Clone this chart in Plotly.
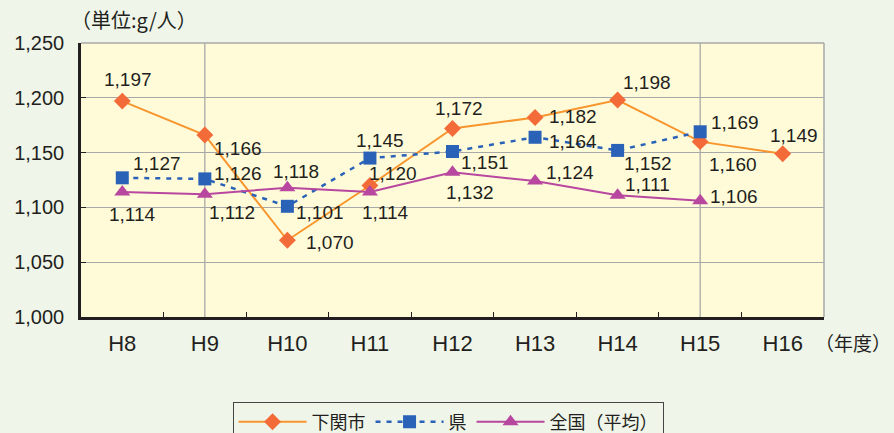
import plotly.graph_objects as go

years = ["H8", "H9", "H10", "H11", "H12", "H13", "H14", "H15", "H16"]
shimonoseki = [1197, 1166, 1070, 1120, 1172, 1182, 1198, 1160, 1149]
ken = [1127, 1126, 1101, 1145, 1151, 1164, 1152, 1169]
zenkoku = [1114, 1112, 1118, 1114, 1132, 1124, 1111, 1106]
y_ticks = [1000, 1050, 1100, 1150, 1200, 1250]

# label offsets in px (style only)
off_s = [(6, 22), (33, -13), (43, -2), (23, 12), (6, 20), (38, 1), (29, 17), (33, -23), (11, 18)]
off_k = [(35, 14), (33, 5), (33, -6), (10, 18), (32, -11), (38, -4), (30, -13), (35, 9)]
off_z = [(10, -22), (27, -18), (9, 16), (16, -20), (17, -20), (35, 9), (30, 11), (34, 4)]

FONT = "Liberation Sans, Noto Sans CJK JP, sans-serif"
CJK = "Noto Sans CJK JP, sans-serif"
TXT = "#231F20"
C_OR_LINE = "#F7962E"
C_OR_MK = "#F26B38"
C_BLUE = "#2A62B8"
C_MAG = "#B8479F"

fig = go.Figure()
fig.add_trace(go.Scatter(x=years, y=shimonoseki, name="下関市", mode="lines+markers",
                         line=dict(color=C_OR_LINE, width=2),
                         marker=dict(symbol="diamond", size=13, color=C_OR_MK)))
fig.add_trace(go.Scatter(x=years[:len(ken)], y=ken, name="県", mode="lines+markers",
                         line=dict(color=C_BLUE, width=2.5, dash="5px,6px"),
                         marker=dict(symbol="square", size=13, color=C_BLUE)))
fig.add_trace(go.Scatter(x=years[:len(zenkoku)], y=zenkoku, name="全国（平均）", mode="lines+markers",
                         line=dict(color=C_MAG, width=2),
                         marker=dict(symbol="triangle-up", size=14, color=C_MAG)))

annots = []
for vals, offs in ((shimonoseki, off_s), (ken, off_k), (zenkoku, off_z)):
    for x, v, (dx, dy) in zip(years, vals, offs):
        annots.append(dict(x=x, y=v, text=f"{v:,}", showarrow=False, xshift=dx, yshift=dy,
                           font=dict(family=FONT, size=19, color=TXT)))
annots.append(dict(xref="paper", yref="paper", x=0, y=1.0, xshift=-12, yshift=24, xanchor="left", yanchor="middle",
                   text="（単位:g/人）", showarrow=False, font=dict(family=CJK, size=20, color=TXT)))
annots.append(dict(xref="paper", yref="paper", x=1.0, y=0, xshift=69, yshift=-25, xanchor="right", yanchor="middle",
                   text="（年度）", showarrow=False, font=dict(family=CJK, size=19, color=TXT)))

shapes = []
for xv in ["H9", "H15"]:
    shapes.append(dict(type="line", xref="x", yref="paper", x0=xv, x1=xv, y0=0, y1=1,
                       line=dict(color="#A8A8A8", width=1.3), layer="below"))
shapes.append(dict(type="line", xref="paper", yref="paper", x0=0, x1=1, y0=1, y1=1,
                   line=dict(color="#A8A8A8", width=1.5)))
shapes.append(dict(type="line", xref="paper", yref="paper", x0=1, x1=1, y0=0, y1=1,
                   line=dict(color="#A8A8A8", width=1.5)))

fig.update_layout(
    width=894, height=433,
    margin=dict(l=81, r=70, t=43, b=116, autoexpand=False),
    paper_bgcolor="#EFF5E9",
    plot_bgcolor="#FFFBD9",
    font=dict(family=FONT, color=TXT),
    showlegend=True,
    legend=dict(orientation="h", x=0.494, xanchor="center", y=-0.312, yanchor="top",
                bgcolor="#EFF5E9", bordercolor="#444444", borderwidth=1,
                font=dict(family=CJK, size=18, color=TXT), itemwidth=68,
                tracegroupgap=0),
    annotations=annots,
    shapes=shapes,
)
fig.update_xaxes(type="category", showgrid=False, showline=True, linecolor="#231F20", linewidth=2.5,
                 ticks="inside", tickson="boundaries", ticklen=5, tickcolor="#231F20", automargin=False,
                 ticklabelstandoff=5,
                 tickfont=dict(family=FONT, size=22, color=TXT), range=[-0.5, 8.5])
fig.update_yaxes(range=[1000, 1250], tickvals=y_ticks, tickformat=",d", showgrid=True,
                 gridcolor="#A8A8A8", gridwidth=1.3, showline=True, linecolor="#231F20", linewidth=2.5,
                 ticks="inside", ticklen=5, tickcolor="#231F20", zeroline=False, automargin=False,
                 ticklabelstandoff=10,
                 tickfont=dict(family=FONT, size=20, color=TXT))
fig.write_html("out.html", config={"displayModeBar": False},
               post_script="document.body.style.margin='0';document.body.style.overflow='hidden';document.body.style.background='#EFF5E9';")
